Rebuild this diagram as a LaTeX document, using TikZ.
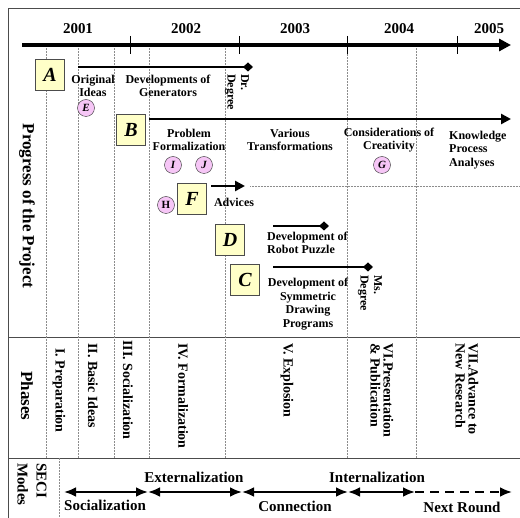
\documentclass[tikz,border=0pt]{standalone}
\usepackage{fontspec}
\setmainfont{Liberation Serif}
\usepackage{xcolor}
\usepackage{tikz}
\usetikzlibrary{positioning, arrows.meta}
\definecolor{boxfill}{HTML}{FFFFC8}
\definecolor{tagfill}{HTML}{F6C6F6}

\begin{document}
\begin{tikzpicture}[
        x=1pt, y=-1pt,
        frame/.style = {draw=black!70, line width=0.9pt},
        grid/.style = {draw=black!45, densely dotted, line width=0.5pt},
        year/.style = {font=\fontsize{15}{15}\selectfont\bfseries, inner sep=0pt},
        task/.style = {draw=black!70, fill=boxfill, minimum width=29pt, minimum height=31pt, inner sep=0pt, font=\fontsize{20}{20}\selectfont\bfseries\itshape},
        tag/.style = {circle, draw=black!80, fill=tagfill, minimum size=17pt, inner sep=0pt, font=\fontsize{11}{11}\selectfont\bfseries\itshape},
        txt/.style = {font=\fontsize{12}{13.5}\selectfont\bfseries, align=center, inner sep=0pt},
        vtxt/.style = {txt, rotate=-90, anchor=west, align=left},
        side/.style = {rotate=-90, font=\fontsize{17}{17}\selectfont\bfseries, align=left, inner sep=0pt},
        phase/.style = {rotate=-90, anchor=west, font=\fontsize{14}{13}\selectfont\bfseries, align=left, inner sep=0pt},
        mode/.style = {font=\fontsize{15}{15}\selectfont\bfseries, inner sep=0pt},
        axis/.style = {line width=3.8pt, -{Triangle[length=12pt, width=12pt]}},
        track/.style = {line width=2.8pt, -{Diamond[length=10pt, width=9pt]}},
        run/.style = {line width=2.8pt, -{Triangle[length=10pt, width=10pt]}},
        seci/.style = {line width=2.8pt, {Latex[length=12pt, width=10pt]}-{Latex[length=12pt, width=10pt]}},
    ]
        \useasboundingbox (0,0) rectangle (520,518);
        % frame and rows
        \draw[frame] (8,518) -- (8,8) -- (520,8);
        \draw[frame] (8,337) -- (520,337);
        \draw[frame] (8,458) -- (520,458);
        \foreach \x in {46,78,114,149,225,347,416}
            \draw[grid] (\x,48) -- (\x,458);
        \draw[grid] (59,458) -- (59,518);
        \draw[grid] (250,186) -- (520,186);

        % time axis
        \coordinate (t0) at (22,45);
        \coordinate (t1) at (511,45);
        \draw[axis] (t0) -- (t1);
        \foreach \x in {130,239,347,457}
            \draw[line width=0.8pt] (\x,36) -- (\x,54);
        \foreach \yr/\x in {2001/78,2002/186,2003/295,2004/399,2005/489}
            \node[year] (y\yr) at (\x,29) {\yr};

        % row titles
        \node[side] (progress) at (27,206) {Progress of the Project};
        \node[side] (phases) at (27,396) {Phases};
        \node[side, anchor=west, font=\fontsize{15}{19}\selectfont\bfseries] (modes) at (32,463) {SECI\\Modes};

        % projects
        \node[task] (A) at (50,75) {A};
        \node[task] (B) at (131,130) {B};
        \node[task] (F) at (192,199) {F};
        \node[task] (D) at (230,240) {D};
        \node[task] (C) at (245,280) {C};

        \node[tag] (E) at (86,108) {E};
        \node[tag] (I) at (173,165) {I};
        \node[tag] (J) at (204,165) {J};
        \node[tag] (G) at (382,165) {G};
        \node[tag, font=\fontsize{11}{11}\selectfont\bfseries] (H) at (166,205) {H};

        \coordinate (a0) at (78,67);
        \coordinate (a1) at (253,67);
        \coordinate (b0) at (149,119);
        \coordinate (b1) at (511,119);
        \coordinate (f0) at (211,186);
        \coordinate (f1) at (245,186);
        \coordinate (d0) at (273,226);
        \coordinate (d1) at (329,226);
        \coordinate (c0) at (273,267);
        \coordinate (c1) at (373,267);
        \draw[track] (a0) -- (a1);
        \draw[run] (b0) -- (b1);
        \draw[run] (f0) -- (f1);
        \draw[track] (d0) -- (d1);
        \draw[track] (c0) -- (c1);

        \node[txt] (ideas) at (93,86) {Original\\Ideas};
        \node[txt] (gens) at (168,86) {Developments of\\Generators};
        \node[vtxt] (dr) at (237,74) {Dr.\\Degree};
        \node[txt] (formal) at (189,140) {Problem\\Formalization};
        \node[txt] (trans) at (290,140) {Various\\Transformations};
        \node[txt] (creat) at (389,140) {Considerations of\\Creativity};
        \node[txt, anchor=west, align=left] (know) at (449,150) {Knowledge\\Process\\Analyses};
        \node[txt] (adv) at (234,202) {Advices};
        \node[txt, anchor=west, align=left] (robot) at (267,243) {Development of\\Robot Puzzle};
        \node[txt] (sym) at (308,304) {Development of\\Symmetric\\Drawing\\Programs};
        \node[vtxt] (ms) at (370,275) {Ms.\\Degree};

        % phases
        \node[phase] (p1) at (59,348) {I. Preparation};
        \node[phase] (p2) at (93,343) {II. Basic Ideas};
        \node[phase] (p3) at (128,340) {III. Socialization};
        \node[phase] (p4) at (183,343) {IV. Formalization};
        \node[phase] (p5) at (287,343) {V. Explosion};
        \node[phase] (p6) at (382,343) {VI.Presentation\\\& Publication};
        \node[phase] (p7) at (467,343) {VII.Advance to\\New Research};

        % SECI modes
        \coordinate (s0) at (64,492);
        \coordinate (s1) at (148,492);
        \coordinate (s2) at (242,492);
        \coordinate (s3) at (348,492);
        \coordinate (s4) at (415,492);
        \coordinate (s5) at (512,492);
        \draw[seci] (s0) -- (s1);
        \draw[seci] (s1) -- (s2);
        \draw[seci] (s2) -- (s3);
        \draw[seci] (s3) -- (s4);
        \draw[line width=2.8pt, dash pattern=on 9pt off 6pt, -{Latex[length=12pt, width=10pt]}] (s4) -- (s5);
        \node[mode] (soc) at (105,505) {Socialization};
        \node[mode] (ext) at (194,477) {Externalization};
        \node[mode] (con) at (295,506) {Connection};
        \node[mode] (int) at (377,477) {Internalization};
        \node[mode] (next) at (462,507) {Next Round};
    \end{tikzpicture}
\end{document}
